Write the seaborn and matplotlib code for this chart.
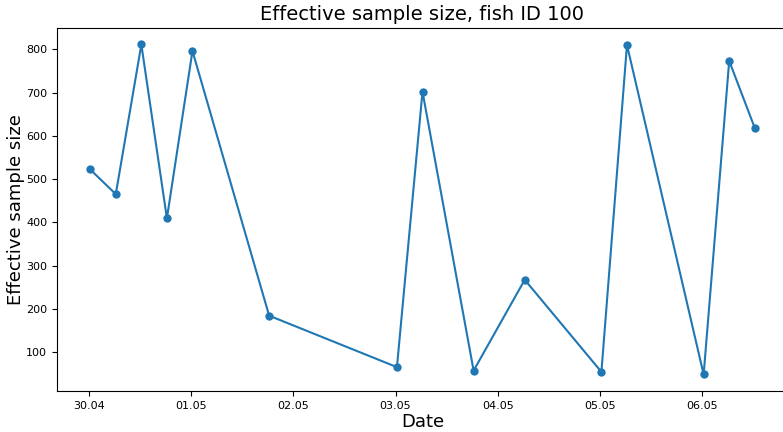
import matplotlib
matplotlib.use("Agg")
import matplotlib.pyplot as plt
import matplotlib.dates as mdates
import pandas as pd
import seaborn as sns

# Sampling times and effective sample sizes for fish 100
timestamps = [
    "2021-04-30 00:20", "2021-04-30 06:20", "2021-04-30 12:20", "2021-04-30 18:20",
    "2021-05-01 00:20", "2021-05-01 18:20", "2021-05-03 00:20", "2021-05-03 06:20",
    "2021-05-03 18:20", "2021-05-04 06:20", "2021-05-05 00:20", "2021-05-05 06:20",
    "2021-05-06 00:20", "2021-05-06 06:20", "2021-05-06 12:20",
]
ess_values = [522, 465, 811, 409, 796, 184, 65, 702, 57, 267, 54, 810, 48, 773, 618]

df = pd.DataFrame({"Date": pd.to_datetime(timestamps), "ess": ess_values})

fig = plt.figure(figsize=(7.83, 4.32), dpi=100)
# right edge of the axes runs just past the canvas
ax = fig.add_axes([57 / 783, 1 - 391 / 432, 731 / 783, 363 / 432])

sns.lineplot(data=df, x="Date", y="ess", marker="o", markersize=6,
             markeredgewidth=0, color="#1f77b4", linewidth=1.5, ax=ax)

ax.xaxis.set_major_locator(mdates.DayLocator())
ax.xaxis.set_major_formatter(mdates.DateFormatter("%d.%m"))
ax.tick_params(axis="both", labelsize=8)
ax.set_xlabel("Date", fontsize=13, labelpad=1.5)
ax.set_ylabel("Effective sample size", fontsize=13, labelpad=1)
ax.set_title("Effective sample size, fish ID 100", fontsize=14)

fig.savefig("out.png", dpi=100)
